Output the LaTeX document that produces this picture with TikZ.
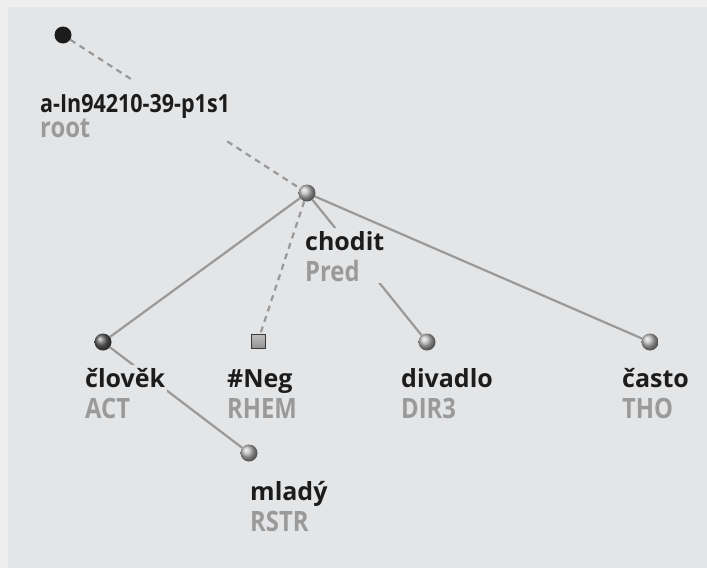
\documentclass[tikz,border=0pt]{standalone}
\usepackage{fontspec}
\setmainfont{Open Sans}
\newfontfamily\functorfont[FakeStretch=0.85]{Open Sans}
\newfontfamily\idfont[FakeStretch=0.86]{Open Sans}
\usepackage{tikz}
\usetikzlibrary{shapes,positioning,backgrounds}
\definecolor{framegray}{HTML}{EEEEEE}
\definecolor{panel}{HTML}{E4E5E7}
\definecolor{linkgray}{HTML}{999999}
\definecolor{functorgray}{HTML}{9A9A9A}
\definecolor{wordblack}{HTML}{1C1C1C}
\newcommand{\fnct}[1]{{\functorfont\bfseries\fontsize{28}{31}\selectfont\color{functorgray}#1}}
\newcommand{\tallrule}{\rule{0pt}{30pt}}
\newcommand{\wordrule}{\rule{0pt}{20pt}}

\begin{document}
\begin{tikzpicture}[
    x=1pt, y=-1pt,
    ball/.style={circle, minimum size=17pt, inner sep=0pt, ball color=gray!55},
    rootdot/.style={circle, minimum size=17pt, inner sep=0pt, fill=wordblack},
    hidden/.style={rectangle, minimum size=14pt, inner sep=0pt, draw=gray!45!black, line width=0.8pt, top color=gray!50, bottom color=gray!85},
    lbl/.style={anchor=north west, align=left, fill=panel, inner sep=2pt, text=wordblack,
        font=\bfseries\fontsize{25}{31}\selectfont},
    link/.style={draw=linkgray, line width=2.2pt},
    dlink/.style={link, dash pattern=on 6pt off 5pt}
]
    \useasboundingbox (0,0) rectangle (707,568);

    % tree nodes
    \node[rootdot] (root) at (63,35) {};
    \node[ball] (chodit) at (307,193) {};
    \node[ball, ball color=gray!75!black] (clovek) at (103,342) {};
    \node[hidden] (neg) at (258,341) {};
    \node[ball] (divadlo) at (427,342) {};
    \node[ball] (casto) at (650,342) {};
    \node[ball] (mlady) at (249,453) {};

    % labels
    \node[lbl, font=\bfseries\fontsize{25}{23}\selectfont] (root-lbl) at (38,80) {\tallrule{\idfont\bfseries a-In94210-39-p1s1}\\\fnct{root}};
    \node[lbl] (chodit-lbl) at (303,228) {\wordrule chodit\\\fnct{Pred}};
    \node[lbl] (clovek-lbl) at (83,365) {\wordrule člověk\\\fnct{ACT}};
    \node[lbl] (neg-lbl) at (225,365) {\wordrule\#Neg\\\fnct{RHEM}};
    \node[lbl] (divadlo-lbl) at (399,365) {\wordrule divadlo\\\fnct{DIR3}};
    \node[lbl] (casto-lbl) at (620,365) {\wordrule často\\\fnct{THO}};
    \node[lbl] (mlady-lbl) at (248,478) {\wordrule mladý\\\fnct{RSTR}};

    \begin{scope}[on background layer]
        \fill[framegray] (0,0) rectangle (707,568);
        \fill[panel] (8,7) rectangle (707,568);
        \draw[dlink] (root) -- (chodit);
        \draw[dlink] (chodit) -- (neg);
        \draw[link] (chodit) -- (clovek);
        \draw[link] (chodit) -- (divadlo);
        \draw[link] (chodit) -- (casto);
        \draw[link] (clovek) -- (mlady);
    \end{scope}
\end{tikzpicture}
\end{document}
